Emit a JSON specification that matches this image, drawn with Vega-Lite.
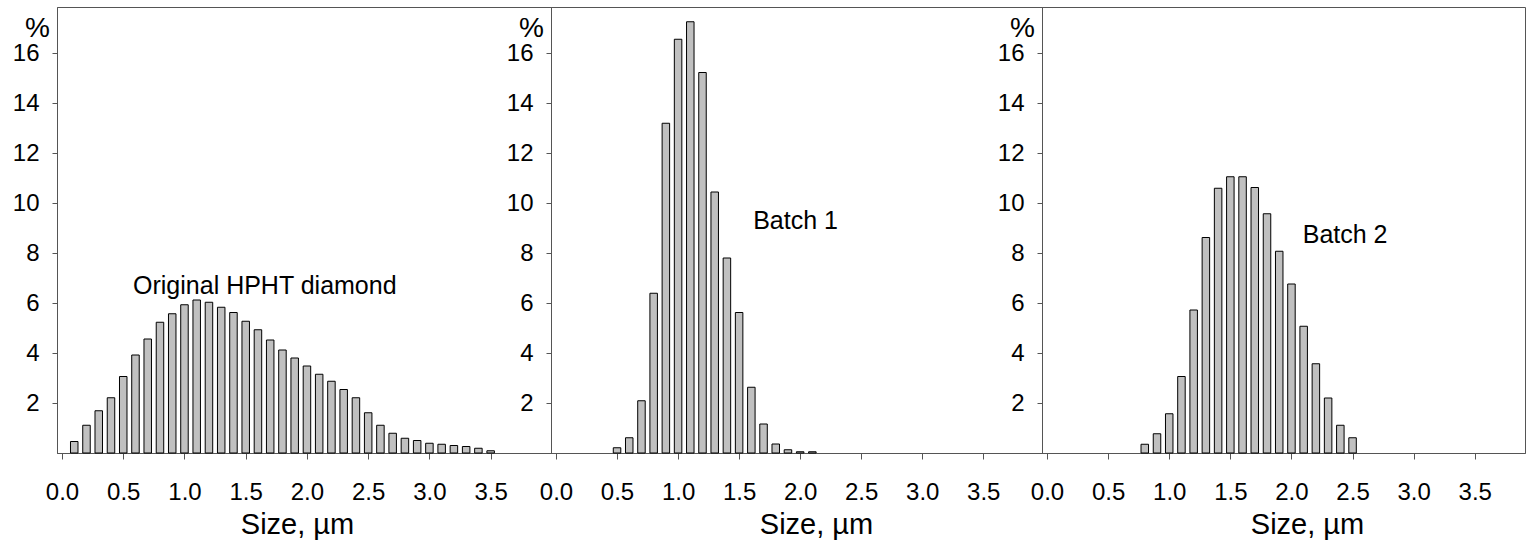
{
  "$schema": "https://vega.github.io/schema/vega-lite/v6.json",
  "background": "white",
  "padding": {"left": 11, "top": 6, "right": 0, "bottom": 0},
  "bounds": "flush",
  "spacing": 0,
  "config": {
    "font": "Liberation Sans",
    "view": {"stroke": "#555555", "strokeWidth": 1},
    "axis": {"grid": false, "domainColor": "#555555", "tickColor": "#555555", "labelColor": "#000000", "titleColor": "#000000", "labelFont": "Liberation Sans", "titleFont": "Liberation Sans", "titleFontWeight": "normal", "domainWidth": 1, "tickWidth": 1}
  },
  "datasets": {
    "orig": [
      {"size": 0.1, "pct": 0.46}, {"size": 0.2, "pct": 1.11}, {"size": 0.3, "pct": 1.69}, {"size": 0.4, "pct": 2.21},
      {"size": 0.5, "pct": 3.06}, {"size": 0.6, "pct": 3.92}, {"size": 0.7, "pct": 4.56}, {"size": 0.8, "pct": 5.23},
      {"size": 0.9, "pct": 5.57}, {"size": 1.0, "pct": 5.93}, {"size": 1.1, "pct": 6.12}, {"size": 1.2, "pct": 6.03},
      {"size": 1.3, "pct": 5.83}, {"size": 1.4, "pct": 5.62}, {"size": 1.5, "pct": 5.27}, {"size": 1.6, "pct": 4.93},
      {"size": 1.7, "pct": 4.52}, {"size": 1.8, "pct": 4.12}, {"size": 1.9, "pct": 3.8}, {"size": 2.0, "pct": 3.48},
      {"size": 2.1, "pct": 3.15}, {"size": 2.2, "pct": 2.87}, {"size": 2.3, "pct": 2.54}, {"size": 2.4, "pct": 2.21},
      {"size": 2.5, "pct": 1.61}, {"size": 2.6, "pct": 1.11}, {"size": 2.7, "pct": 0.79}, {"size": 2.8, "pct": 0.59},
      {"size": 2.9, "pct": 0.5}, {"size": 3.0, "pct": 0.39}, {"size": 3.1, "pct": 0.35}, {"size": 3.2, "pct": 0.3},
      {"size": 3.3, "pct": 0.26}, {"size": 3.4, "pct": 0.19}, {"size": 3.5, "pct": 0.09}
    ],
    "b1": [
      {"size": 0.5, "pct": 0.21}, {"size": 0.6, "pct": 0.61}, {"size": 0.7, "pct": 2.09}, {"size": 0.8, "pct": 6.39},
      {"size": 0.9, "pct": 13.19}, {"size": 1.0, "pct": 16.55}, {"size": 1.1, "pct": 17.25}, {"size": 1.2, "pct": 15.22},
      {"size": 1.3, "pct": 10.44}, {"size": 1.4, "pct": 7.8}, {"size": 1.5, "pct": 5.62}, {"size": 1.6, "pct": 2.63},
      {"size": 1.7, "pct": 1.16}, {"size": 1.8, "pct": 0.36}, {"size": 1.9, "pct": 0.13}, {"size": 2.0, "pct": 0.05},
      {"size": 2.1, "pct": 0.05}
    ],
    "b2": [
      {"size": 0.8, "pct": 0.35}, {"size": 0.9, "pct": 0.77}, {"size": 1.0, "pct": 1.57}, {"size": 1.1, "pct": 3.06},
      {"size": 1.2, "pct": 5.72}, {"size": 1.3, "pct": 8.62}, {"size": 1.4, "pct": 10.59}, {"size": 1.5, "pct": 11.05},
      {"size": 1.6, "pct": 11.05}, {"size": 1.7, "pct": 10.62}, {"size": 1.8, "pct": 9.57}, {"size": 1.9, "pct": 8.07},
      {"size": 2.0, "pct": 6.76}, {"size": 2.1, "pct": 5.07}, {"size": 2.2, "pct": 3.57}, {"size": 2.3, "pct": 2.2},
      {"size": 2.4, "pct": 1.11}, {"size": 2.5, "pct": 0.61}
    ],
    "notes": [
      {"panel": "orig", "size": 1.656, "pct": 6.7, "label": "Original HPHT diamond"},
      {"panel": "b1", "size": 1.962, "pct": 9.28, "label": "Batch 1"},
      {"panel": "b2", "size": 2.439, "pct": 8.72, "label": "Batch 2"}
    ]
  },
  "hconcat": [
    {
      "width": 494, "height": 446,
      "layer": [
        {
          "data": {"name": "orig"},
          "mark": {"type": "bar", "size": 7.5, "fill": "#c0c0c0", "stroke": "#000000", "strokeWidth": 1},
          "encoding": {
            "x": {"field": "size", "type": "quantitative", "scale": {"domain": [0, 3.952], "nice": false},
              "axis": {"values": [0, 0.5, 1, 1.5, 2, 2.5, 3, 3.5], "format": ".1f", "labelFontSize": 24, "tickSize": 6, "labelPadding": 40, "labelBaseline": "alphabetic", "labelFlush": false, "labelOverlap": false,
                "title": "Size, µm", "titleFontSize": 29, "titleBaseline": "alphabetic", "titleAlign": "center", "titleX": 240, "titleY": 80}},
            "y": {"field": "pct", "type": "quantitative", "scale": {"domain": [0, 17.84], "nice": false},
              "axis": {"values": [2, 4, 6, 8, 10, 12, 14, 16], "labelFontSize": 24, "tickSize": 5, "labelPadding": 13, "labelFlush": false, "labelOverlap": false,
                "title": "%", "titleAngle": 0, "titleFontSize": 28, "titleAlign": "center", "titleBaseline": "middle", "titleX": -20, "titleY": 21}}
          }
        },
        {
          "data": {"name": "notes"},
          "transform": [{"filter": "datum.panel === 'orig'"}],
          "mark": {"type": "text", "fontSize": 25, "align": "center", "baseline": "middle", "color": "#000000"},
          "encoding": {"x": {"field": "size", "type": "quantitative"}, "y": {"field": "pct", "type": "quantitative"}, "text": {"field": "label"}}
        }
      ]
    },
    {
      "width": 491, "height": 446,
      "layer": [
        {
          "data": {"name": "b1"},
          "mark": {"type": "bar", "size": 7.5, "fill": "#c0c0c0", "stroke": "#000000", "strokeWidth": 1},
          "encoding": {
            "x": {"field": "size", "type": "quantitative", "scale": {"domain": [0, 3.94], "nice": false},
              "axis": {"values": [0, 0.5, 1, 1.5, 2, 2.5, 3, 3.5], "format": ".1f", "labelFontSize": 24, "tickSize": 6, "labelPadding": 40, "labelBaseline": "alphabetic", "labelFlush": false, "labelOverlap": false,
                "title": "Size, µm", "titleFontSize": 29, "titleBaseline": "alphabetic", "titleAlign": "center", "titleX": 265, "titleY": 80}},
            "y": {"field": "pct", "type": "quantitative", "scale": {"domain": [0, 17.84], "nice": false},
              "axis": {"values": [2, 4, 6, 8, 10, 12, 14, 16], "labelFontSize": 24, "tickSize": 5, "labelPadding": 13, "labelFlush": false, "labelOverlap": false,
                "title": "%", "titleAngle": 0, "titleFontSize": 28, "titleAlign": "center", "titleBaseline": "middle", "titleX": -20, "titleY": 21}}
          }
        },
        {
          "data": {"name": "notes"},
          "transform": [{"filter": "datum.panel === 'b1'"}],
          "mark": {"type": "text", "fontSize": 25, "align": "center", "baseline": "middle", "color": "#000000"},
          "encoding": {"x": {"field": "size", "type": "quantitative"}, "y": {"field": "pct", "type": "quantitative"}, "text": {"field": "label"}}
        }
      ]
    },
    {
      "width": 483, "height": 446,
      "layer": [
        {
          "data": {"name": "b2"},
          "mark": {"type": "bar", "size": 7.5, "fill": "#c0c0c0", "stroke": "#000000", "strokeWidth": 1},
          "encoding": {
            "x": {"field": "size", "type": "quantitative", "scale": {"domain": [0, 3.87], "nice": false},
              "axis": {"values": [0, 0.5, 1, 1.5, 2, 2.5, 3, 3.5], "format": ".1f", "labelFontSize": 24, "tickSize": 6, "labelPadding": 40, "labelBaseline": "alphabetic", "labelFlush": false, "labelOverlap": false,
                "title": "Size, µm", "titleFontSize": 29, "titleBaseline": "alphabetic", "titleAlign": "center", "titleX": 265, "titleY": 80}},
            "y": {"field": "pct", "type": "quantitative", "scale": {"domain": [0, 17.84], "nice": false},
              "axis": {"values": [2, 4, 6, 8, 10, 12, 14, 16], "labelFontSize": 24, "tickSize": 5, "labelPadding": 13, "labelFlush": false, "labelOverlap": false,
                "title": "%", "titleAngle": 0, "titleFontSize": 28, "titleAlign": "center", "titleBaseline": "middle", "titleX": -20, "titleY": 21}}
          }
        },
        {
          "data": {"name": "notes"},
          "transform": [{"filter": "datum.panel === 'b2'"}],
          "mark": {"type": "text", "fontSize": 25, "align": "center", "baseline": "middle", "color": "#000000"},
          "encoding": {"x": {"field": "size", "type": "quantitative"}, "y": {"field": "pct", "type": "quantitative"}, "text": {"field": "label"}}
        }
      ]
    }
  ]
}
